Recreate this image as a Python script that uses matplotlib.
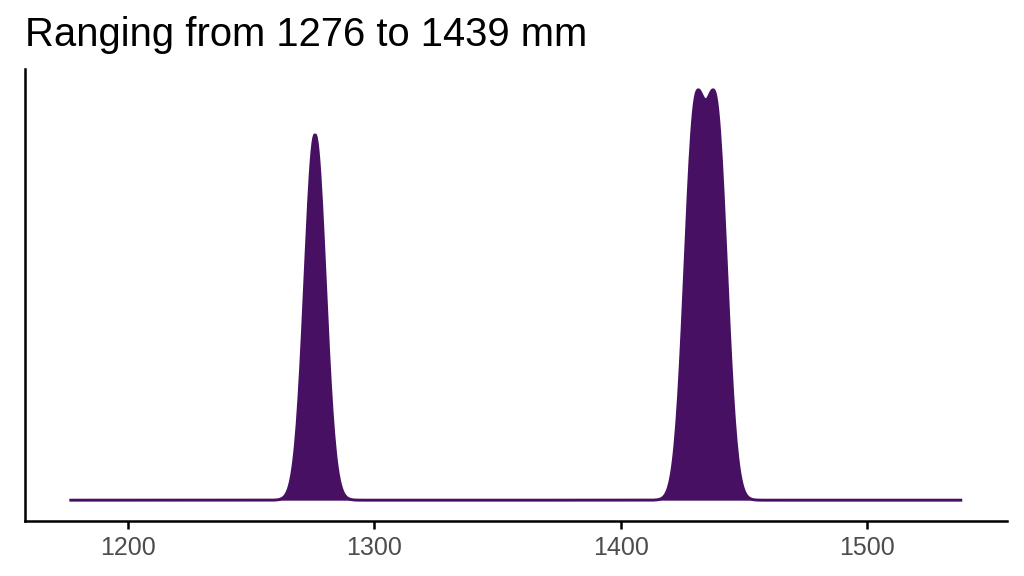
import numpy as np
import matplotlib
matplotlib.use("Agg")
import matplotlib.pyplot as plt

# observed lengths (mm) and kernel bandwidth of the density
lengths = [1276, 1430, 1439]
bandwidth = 4.1
x_from, x_to = 1176.3, 1538.6
x_ticks = [1200, 1300, 1400, 1500]
title = "Ranging from 1276 to 1439 mm"
fill_color = "#471063"

plt.rcParams["font.family"] = ["Liberation Sans", "DejaVu Sans"]


def gaussian_density(obs, grid, bw):
    obs = np.asarray(obs, float)
    z = (grid[:, None] - obs[None, :]) / bw
    return np.exp(-0.5 * z ** 2).sum(axis=1) / (len(obs) * bw * np.sqrt(2 * np.pi))


grid = np.linspace(x_from, x_to, 1024)
dens = gaussian_density(lengths, grid, bandwidth)

fig = plt.figure(figsize=(10.24, 5.76), dpi=100)
ax = fig.add_axes([24.7 / 1024, 55.3 / 576, 982.2 / 1024, 451.4 / 576])

ax.fill_between(grid, 0, dens, color=fill_color, lw=0)
ax.plot(grid, dens, color=fill_color, lw=2.1, solid_capstyle="butt")

# ggplot-like 5% expansion
span = x_to - x_from
ax.set_xlim(x_from - 0.05 * span, x_to + 0.05 * span)
top = dens.max()
ax.set_ylim(-0.05 * top, 1.05 * top)

ax.set_xticks(x_ticks)
ax.set_xticklabels([str(t) for t in x_ticks])
ax.set_yticks([])
ax.tick_params(axis="x", length=5.8, width=1.8, color="black",
               labelsize=18, labelcolor="#4D4D4D", pad=5)
for side in ["top", "right"]:
    ax.spines[side].set_visible(False)
for side in ["left", "bottom"]:
    ax.spines[side].set_linewidth(1.8)
    ax.spines[side].set_color("black")

fig.text(25 / 1024, 1 - 45.7 / 576, title, fontsize=28.8, color="black",
         ha="left", va="baseline")

fig.savefig("out.png", dpi=100)
